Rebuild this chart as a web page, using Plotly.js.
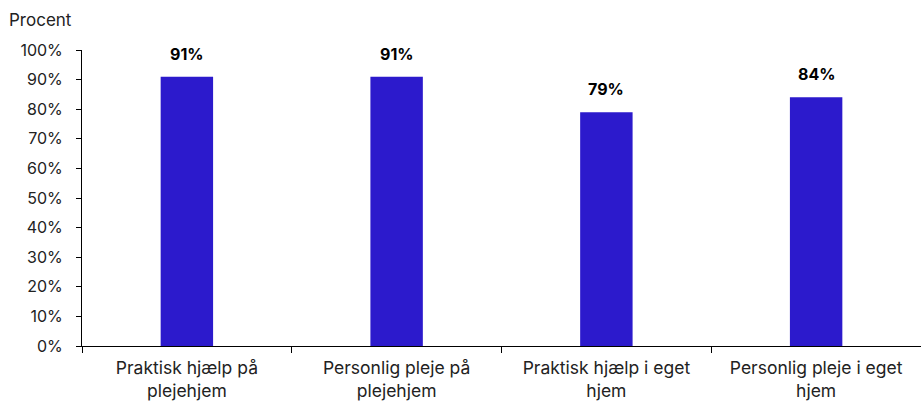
<!DOCTYPE html>
<html><head><meta charset="utf-8">
<script src="https://cdn.plot.ly/plotly-3.0.1.min.js"></script>
<style>html,body{margin:0;padding:0;background:#fff}#c{width:921px;height:401px}</style>
</head><body><div id="c"></div>
<script>
const categories = ["Praktisk hjælp på<br>plejehjem", "Personlig pleje på<br>plejehjem", "Praktisk hjælp i eget<br>hjem", "Personlig pleje i eget<br>hjem"];
const values = [91, 91, 79, 84];
const valueLabels = ["91%", "91%", "79%", "84%"];
const yTitle = "Procent";

const font = "Inter, Liberation Sans, Arial, sans-serif";
const trace = {
  type: "bar", x: categories, y: values, marker: {color: "#2C1ACC"},
  width: 0.25, hoverinfo: "none"
};
const annotations = categories.map((c, i) => ({
  x: c, y: values[i], xref: "x", yref: "y", text: "<b>" + valueLabels[i] + "</b>",
  showarrow: false, yanchor: "bottom", yshift: 11, font: {family: font, size: 16, color: "#000"}
}));
annotations.push({xref: "paper", yref: "paper", x: -0.089, y: 1.06, xanchor: "left", yanchor: "bottom",
  text: yTitle, showarrow: false, font: {family: font, size: 17, color: "#222"}});
const layout = {
  width: 921, height: 401, margin: {l: 82, r: 0, t: 50, b: 55},
  paper_bgcolor: "#fff", plot_bgcolor: "#fff", showlegend: false,
  font: {family: font, size: 16, color: "#222"},
  xaxis: {type: "category", range: [-0.5, 3.5], showline: true, linecolor: "#000", linewidth: 1,
    ticks: "outside", tickson: "boundaries", ticklen: 6, tickcolor: "#000", showgrid: false,
    ticklabelstandoff: 6, tickfont: {family: font, size: 17.5, color: "#222"}},
  yaxis: {range: [0, 100], dtick: 10, ticksuffix: "%", showline: true, linecolor: "#000", linewidth: 1,
    ticks: "outside", ticklen: 5, tickcolor: "#000", showgrid: false, zeroline: false,
    ticklabelstandoff: 10, tickfont: {family: font, size: 16, color: "#222"}},
  annotations: annotations
};
Plotly.newPlot("c", [trace], layout, {displayModeBar: false, staticPlot: true});
</script></body></html>
